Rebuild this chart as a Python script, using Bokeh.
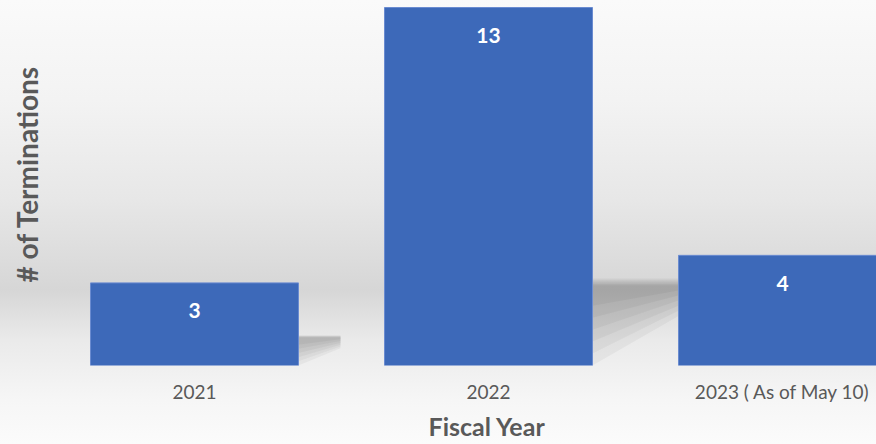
from bokeh.plotting import figure
from bokeh.models import Range1d, Title, ColumnDataSource
from bokeh.core.properties import value
from bokeh.embed import file_html
from bokeh.resources import INLINE

# ---- data ----
categories = ["2021", "2022", "2023 ( As of May 10)"]
terminations = [3, 13, 4]
x_title = "Fiscal Year"
y_title = "# of Terminations"

xs = list(range(len(categories)))
labels = [str(v) for v in terminations]

# ---- layout (pixels) ----
W, H = 876, 444
left_border = 50
bottom_border = 79
frame_w = W - left_border
frame_h = H - bottom_border
px_per_cat = 294.0
first_center_px = 194 - left_border  # from frame left
bar_width = 208.0 / px_per_cat
px_per_unit = 358.0 / 13.0

x_start = -first_center_px / px_per_cat
x_end = x_start + frame_w / px_per_cat
y_end = frame_h / px_per_unit

FONT = "Lato"
GRAY = "#595959"

p = figure(width=W, height=H, output_backend="svg", toolbar_location=None,
           x_range=Range1d(x_start, x_end), y_range=Range1d(0, y_end),
           min_border_left=left_border, min_border_right=0, min_border_top=0,
           min_border_bottom=bottom_border, y_axis_location=None)
p.background_fill_alpha = 0
p.border_fill_alpha = 0
p.outline_line_color = None
p.grid.visible = False
p.styles = {"background": "linear-gradient(to bottom, #fafafa 0%, #f3f3f3 22.5%, "
            "#e7e7e7 45%, #dcdcdc 58.5%, #d6d6d6 65.3%, #e2e2e2 72%, #eaeaea 76.6%, "
            "#f0f0f0 83.3%, #f6f6f6 90%, #fbfbfb 100%)"}

# ---- soft floor shadows cast to the right of each bar ----
gap = 1.0 - bar_width
shadow_xs, shadow_ys = [], []
n_layers = 6
for x, v in zip(xs, terminations):
    xr = x + bar_width / 2
    top = min(v * 0.36, 3.1)
    length = min(v * 14.0 / px_per_cat, gap)
    for k in range(n_layers):
        f = k / (n_layers - 1)
        t = top * (1.02 - 0.08 * f)
        far_b = top * (0.58 + 0.3 * f)
        near_b = top * (0.7 * f)
        shadow_xs.append([xr, xr, xr + length, xr + length])
        shadow_ys.append([near_b, t, t, far_b])
p.patches(shadow_xs, shadow_ys, fill_color="black", fill_alpha=0.038, line_color=None)

src = ColumnDataSource(dict(x=xs, top=terminations, label=labels))
p.vbar(x="x", top="top", width=bar_width, bottom=0, source=src,
       fill_color="#3d69b9", line_color="#6a8bd0", line_width=1)
p.text(x="x", y="top", text="label", source=src, y_offset=28,
       text_align="center", text_baseline="middle", text_color="white",
       text_font=value(FONT), text_font_style="bold", text_font_size="21px")

ax = p.xaxis[0]
ax.ticker = xs
ax.major_label_overrides = {i: c for i, c in zip(xs, categories)}
ax.axis_line_color = None
ax.major_tick_line_color = None
ax.minor_tick_line_color = None
ax.major_tick_out = 0
ax.major_tick_in = 0
ax.major_label_standoff = 14
ax.major_label_text_font = FONT
ax.major_label_text_font_size = "19px"
ax.major_label_text_color = GRAY

p.add_layout(Title(text=x_title, align="left", offset=378, text_font=FONT,
                   text_font_size="25px", text_font_style="bold",
                   text_color=GRAY, standoff=6), "below")
p.add_layout(Title(text=y_title, align="right", offset=65, text_font=FONT,
                   text_font_size="28px", text_font_style="bold",
                   text_color=GRAY, standoff=13), "left")

open("out.html", "w").write(file_html(p, INLINE))
